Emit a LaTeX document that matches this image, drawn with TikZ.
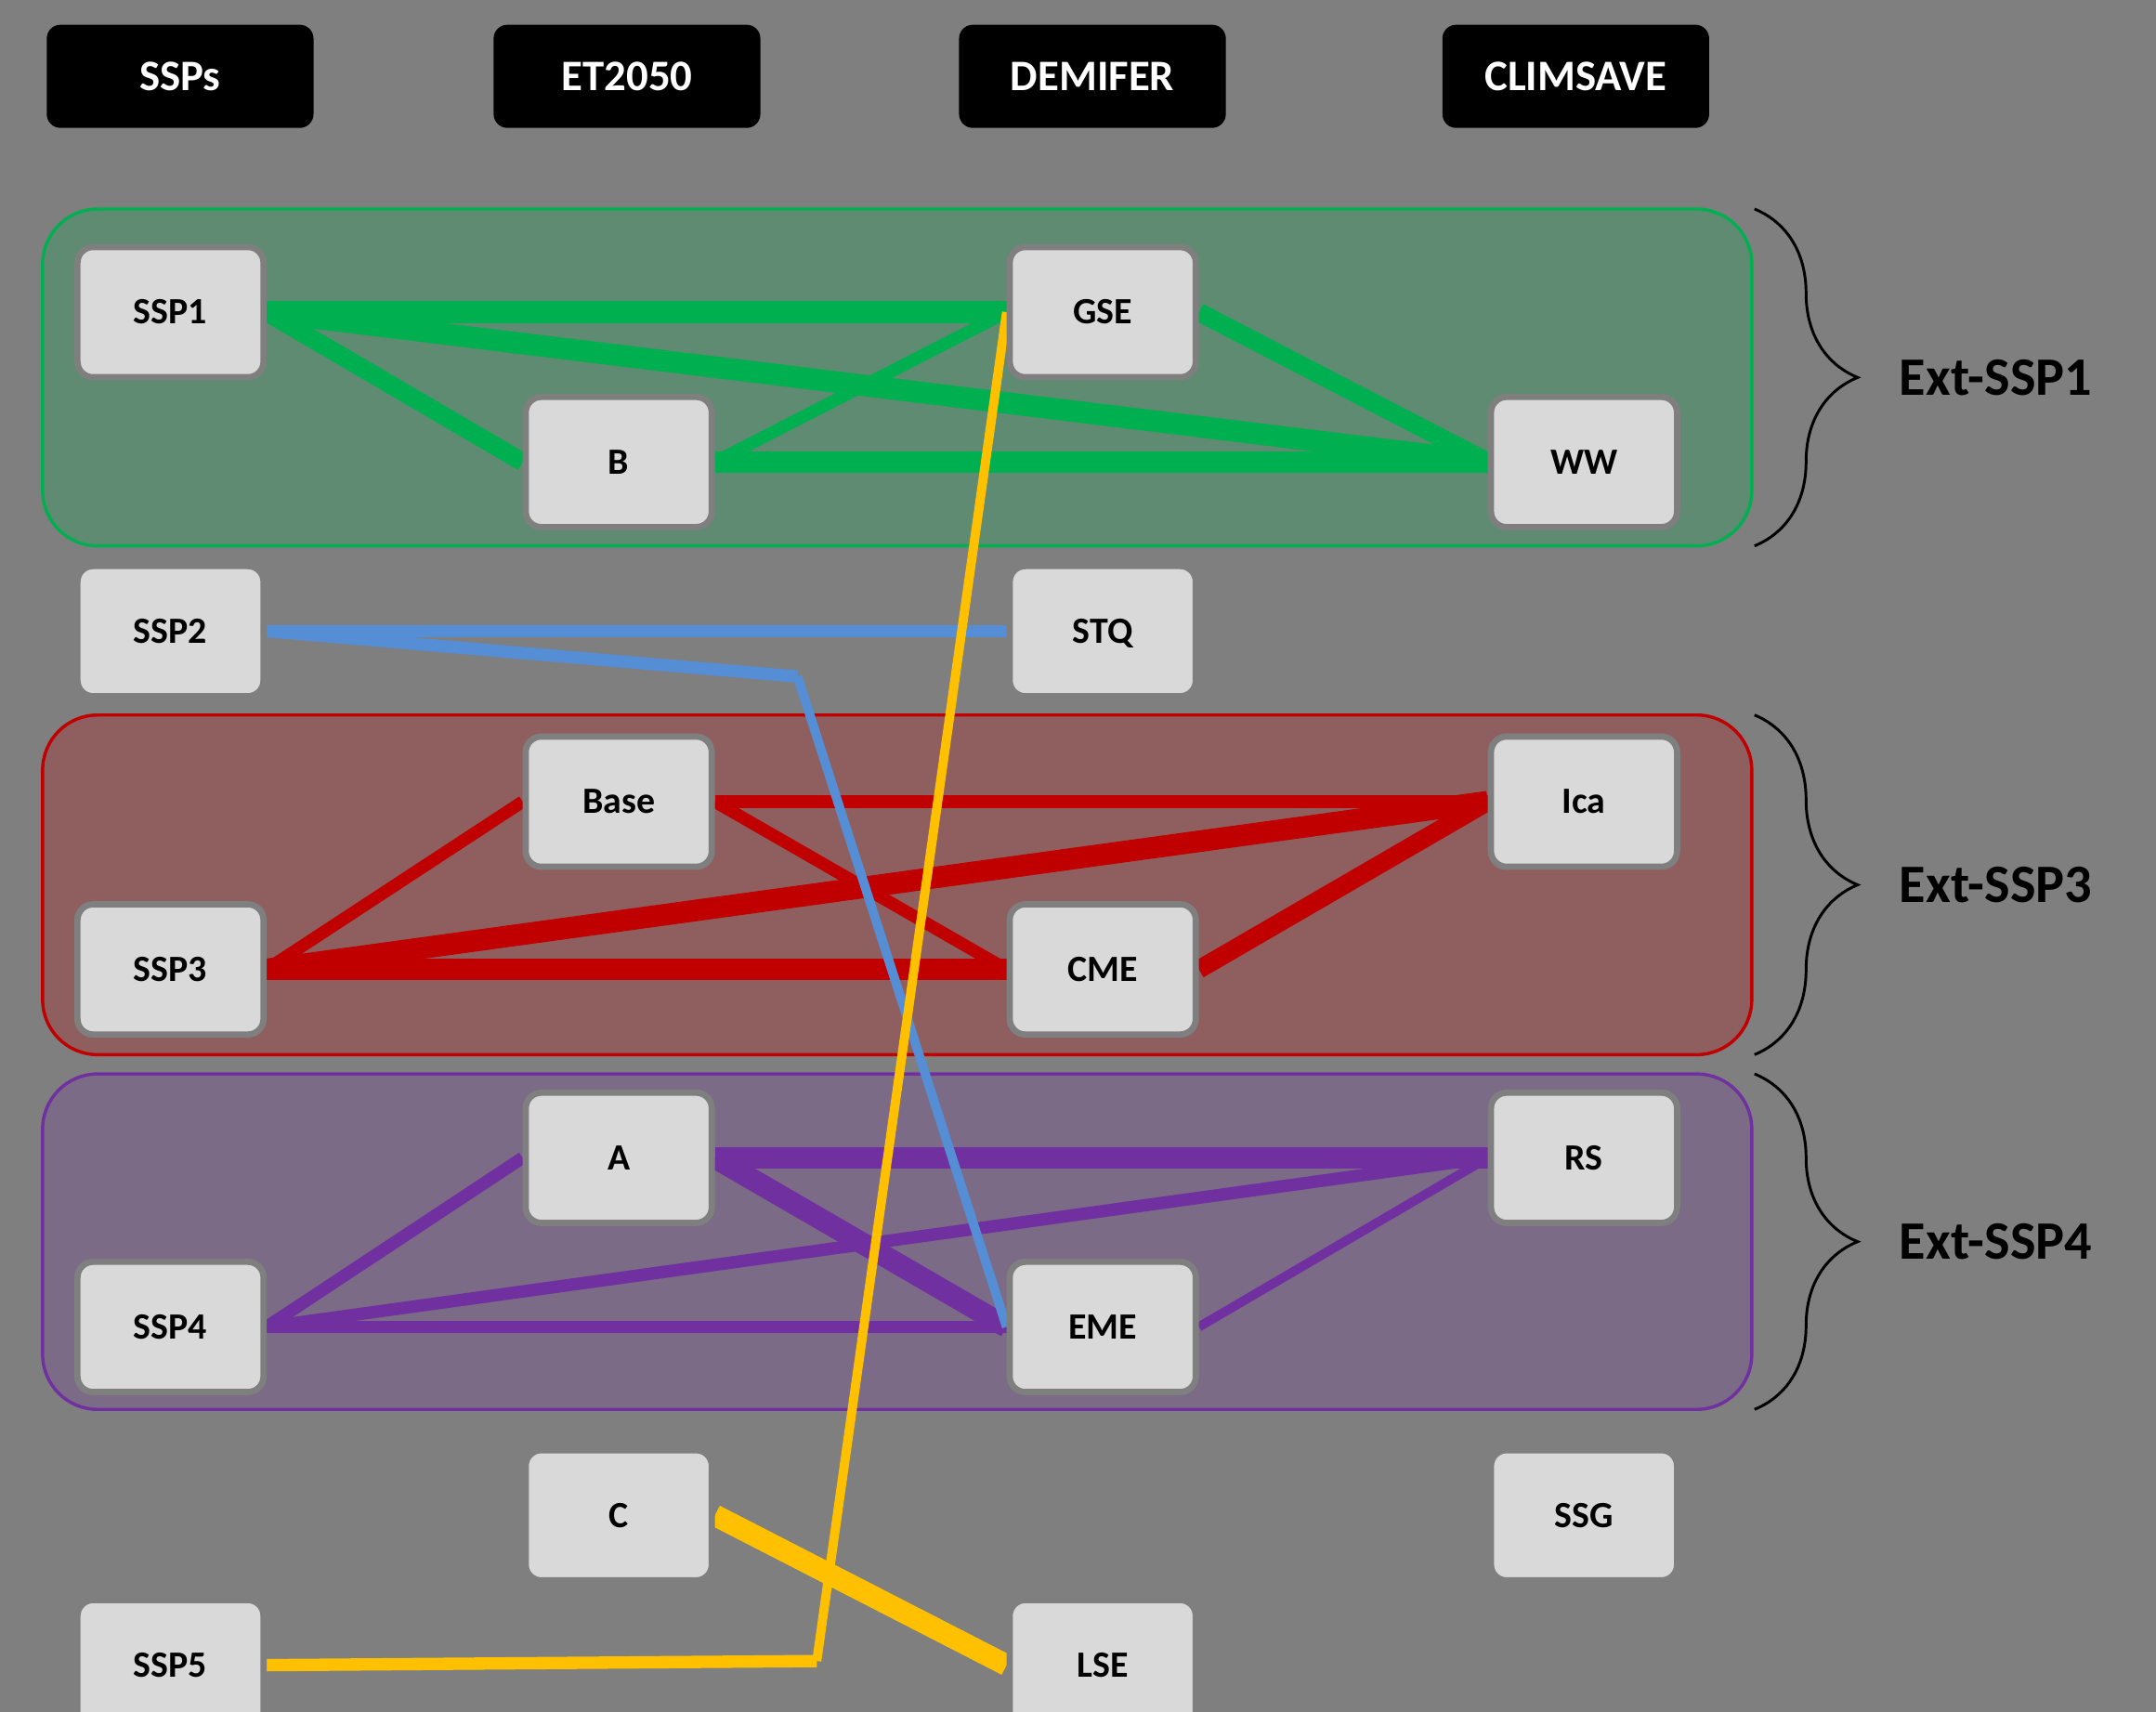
\documentclass[tikz,border=0pt]{standalone}
\usepackage{fontspec}
\setmainfont{Carlito}
\usetikzlibrary{decorations.pathreplacing}
\definecolor{fondo}{HTML}{7F7F7F}
\definecolor{gris}{HTML}{D9D9D9}
\definecolor{verde}{HTML}{00B050}
\definecolor{rojo}{HTML}{C00000}
\definecolor{morado}{HTML}{7030A0}
\definecolor{azul}{HTML}{558ED5}
\definecolor{amarillo}{HTML}{FFC000}
\pgfdeclarelayer{capafondo}
\pgfdeclarelayer{grupos}
\pgfdeclarelayer{enlaces}
\pgfsetlayers{capafondo,grupos,enlaces,main}
% columnas (SSPs, ET2050, DEMIFER, CLIMSAVE)
\def\xA{124}
\def\xB{450}
\def\xC{802}
\def\xD{1152}
\def\W{1568}
\def\H{1245}

\begin{document}
\begin{tikzpicture}[x=0.15mm, y=-0.15mm,
    modelo/.style={rectangle, rounded corners=1.7mm, fill=gris, draw=fondo,
      line width=0.68mm, minimum width=20.3mm, minimum height=14.2mm,
      inner sep=0pt, text height=7.4pt, text depth=0pt,
      font=\fontsize{11.5}{14}\selectfont\bfseries},
    cabecera/.style={rectangle, rounded corners=1.5mm, fill=black, text=white,
      minimum width=29.1mm, minimum height=11.25mm, inner sep=0pt,
      font=\fontsize{13.5}{16}\selectfont\bfseries},
    grupo/.style={rounded corners=6mm, line width=0.35mm, draw=#1, fill=#1, fill opacity=0.25},
    llave/.style={decorate, decoration={brace, amplitude=11.25mm}, line width=0.3mm},
    etiqueta/.style={anchor=west, inner sep=0pt, font=\fontsize{16.8}{20}\selectfont\bfseries},
    grueso/.style={line width=2.35mm},
    semi/.style={line width=2mm},
    medio/.style={line width=1.35mm},
    fino/.style={line width=1mm}]

    % Marco
    \useasboundingbox (0,0) rectangle (\W,\H);
    \clip (0,0) rectangle (\W,\H);
    \begin{pgfonlayer}{capafondo}
      \fill[fondo] (0,0) rectangle (\W,\H);
    \end{pgfonlayer}

    % Grupos
    \begin{pgfonlayer}{grupos}
      \draw[grupo=verde] (31,152) rectangle (1274,397);
      \draw[grupo=rojo] (31,520) rectangle (1274,767);
      \draw[grupo=morado] (31,781) rectangle (1274,1025);
    \end{pgfonlayer}

    % Cabeceras
    \node[cabecera] (ssps) at (131,55.5) {SSPs};
    \node[cabecera] (et) at (456,55.5) {ET2050};
    \node[cabecera] (demifer) at (794.5,55.5) {DEMIFER};
    \node[cabecera] (climsave) at (1146,55.5) {CLIMSAVE};

    % Escenarios
    \node[modelo] (ssp1) at (\xA,227) {SSP1};
    \node[modelo] (b) at (\xB,336) {B};
    \node[modelo] (gse) at (\xC,227) {GSE};
    \node[modelo] (ww) at (\xD,336) {WW};
    \node[modelo] (ssp2) at (\xA,459) {SSP2};
    \node[modelo] (stq) at (\xC,459) {STQ};
    \node[modelo] (base) at (\xB,583) {Base};
    \node[modelo] (ica) at (\xD,583) {Ica};
    \node[modelo] (ssp3) at (\xA,705) {SSP3};
    \node[modelo] (cme) at (\xC,705) {CME};
    \node[modelo] (a) at (\xB,842) {A};
    \node[modelo] (rs) at (\xD,842) {RS};
    \node[modelo] (ssp4) at (\xA,965) {SSP4};
    \node[modelo] (eme) at (\xC,965) {EME};
    \node[modelo] (c) at (\xB,1102) {C};
    \node[modelo] (ssg) at (\xD,1102) {SSG};
    \node[modelo] (ssp5) at (\xA,1211) {SSP5};
    \node[modelo] (lse) at (\xC,1211) {LSE};

    % Codos de las lineas azul y amarilla
    \coordinate (codoAzul) at (580,492);
    \coordinate (codoAmarillo) at (594,1208);

    \begin{pgfonlayer}{enlaces}
      % Ext-SSP1 (verde)
      \draw[verde, grueso] (ssp1.east) -- (gse.west);
      \draw[verde, semi] (ssp1.east) -- (b.west);
      \draw[verde, grueso] (ssp1.east) -- (ww.west);
      \draw[verde, medio] (b.east) -- (gse.west);
      \draw[verde, grueso] (b.east) -- (ww.west);
      \draw[verde, semi] (gse.east) -- (ww.west);

      % Ext-SSP3 (rojo)
      \draw[rojo, medio] (ssp3.east) -- (base.west);
      \draw[rojo, grueso] (ssp3.east) -- (cme.west);
      \draw[rojo, grueso] (ssp3.east) -- (ica.west);
      \draw[rojo, medio] (base.east) -- (ica.west);
      \draw[rojo, medio] (base.east) -- (cme.west);
      \draw[rojo, semi] (cme.east) -- (ica.west);

      % Ext-SSP4 (morado)
      \draw[morado, medio] (ssp4.east) -- (a.west);
      \draw[morado, medio] (ssp4.east) -- (eme.west);
      \draw[morado, medio] (ssp4.east) -- (rs.west);
      \draw[morado, grueso] (a.east) -- (rs.west);
      \draw[morado, grueso] (a.east) -- (eme.west);
      \draw[morado, fino] (eme.east) -- (rs.west);

      % SSP2 (azul)
      \draw[azul, medio] (ssp2.east) -- (stq.west);
      \draw[azul, medio] (ssp2.east) -- (codoAzul);
      \draw[azul, fino] (codoAzul) -- (eme.west);

      % SSP5 (amarillo)
      \draw[amarillo, medio] (ssp5.east) -- (codoAmarillo);
      \draw[amarillo, fino] (codoAmarillo) -- (gse.west);
      \draw[amarillo, grueso] (c.east) -- (lse.west);
    \end{pgfonlayer}

    % Llaves y etiquetas
    \draw[llave] (1276,152) -- (1276,397);
    \draw[llave] (1276,520) -- (1276,767);
    \draw[llave] (1276,781) -- (1276,1025);
    \node[etiqueta] (ext1) at (1381,274.5) {Ext-SSP1};
    \node[etiqueta] (ext3) at (1381,643.5) {Ext-SSP3};
    \node[etiqueta] (ext4) at (1381,903) {Ext-SSP4};
\end{tikzpicture}
\end{document}
